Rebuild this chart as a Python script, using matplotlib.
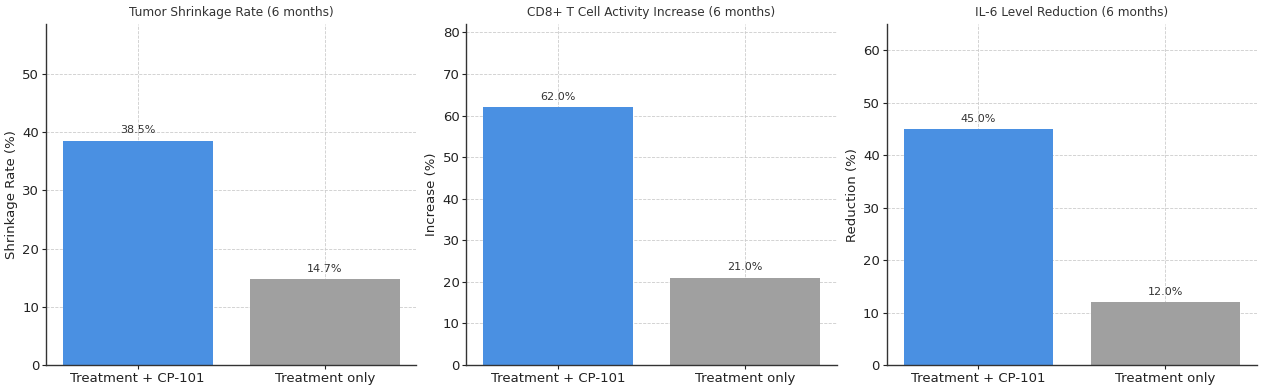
import matplotlib
matplotlib.use("Agg")
import matplotlib.pyplot as plt

categories = ["Treatment + CP-101", "Treatment only"]
tumor_shrinkage = [38.5, 14.7]
cd8_increase = [62.0, 21.0]
il6_reduction = [45.0, 12.0]

titles = ["Tumor Shrinkage Rate (6 months)",
          "CD8+ T Cell Activity Increase (6 months)",
          "IL-6 Level Reduction (6 months)"]
ylabels = ["Shrinkage Rate (%)", "Increase (%)", "Reduction (%)"]
series = [tumor_shrinkage, cd8_increase, il6_reduction]
colors = ["#4A90E2", "#A0A0A0"]

fig, axes = plt.subplots(1, 3, figsize=(12.65, 3.9), dpi=100)
fig.subplots_adjust(left=0.0364, right=0.9937, top=0.938, bottom=0.064, wspace=0.135)

for ax, vals, title, yl in zip(axes, series, titles, ylabels):
    bars = ax.bar(categories, vals, color=colors, width=0.8, zorder=2)
    ax.set_title(title, fontsize=8.7, color="#333333", pad=6)
    ax.set_ylabel(yl, fontsize=9.5, color="#222222", labelpad=3)
    ax.set_ylim(0, max(vals) + 20)
    ax.grid(True, linestyle="--", color="#cccccc", linewidth=0.6, zorder=0)
    ax.set_axisbelow(True)
    for s in ["top", "right"]:
        ax.spines[s].set_visible(False)
    for s in ["left", "bottom"]:
        ax.spines[s].set_color("#333333")
        ax.spines[s].set_linewidth(1.0)
    ax.tick_params(axis="both", labelsize=9.5, colors="#222222", length=3, pad=2)
    for b, v in zip(bars, vals):
        ax.annotate(f"{v:.1f}%", (b.get_x() + b.get_width() / 2, v),
                    xytext=(0, 4), textcoords="offset points",
                    ha="center", va="bottom", fontsize=8, color="#333333")

fig.savefig("out.png", dpi=100)
